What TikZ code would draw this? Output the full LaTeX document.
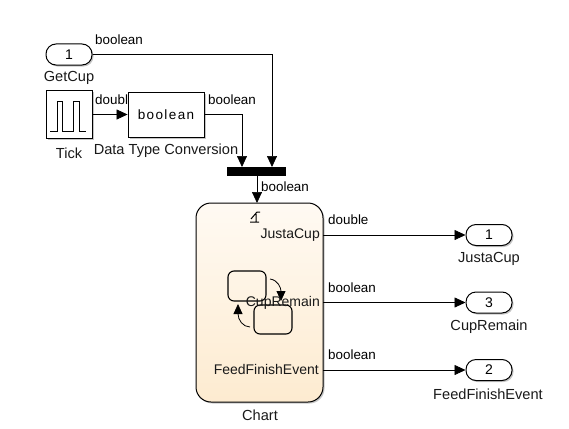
\documentclass[tikz,border=0pt]{standalone}
\usepackage{fontspec}
\setmainfont{Liberation Sans}
\usepackage{xcolor}
\usetikzlibrary{arrows.meta, shadows}
\definecolor{charttop}{HTML}{FFFAF3}
\definecolor{chartbottom}{HTML}{FDEBD0}
\tikzset{
    simlabel/.style={font=\fontsize{13.4}{15}\selectfont, inner sep=0pt, text=black},
    namelabel/.style={font=\fontsize{14.6}{16}\selectfont, inner sep=0pt, text=black!90},
    portlabel/.style={font=\fontsize{14}{16}\selectfont, inner sep=0pt, text=black!90, anchor=east},
    wire/.style={-{Triangle[length=11pt,width=10pt]}, line width=0.7pt},
    portblock/.style={draw, line width=1pt, fill=white, rounded corners=10pt, minimum width=46pt, minimum height=21pt, inner sep=0pt, font=\fontsize{14}{16}\selectfont, drop shadow={shadow xshift=1.5pt, shadow yshift=-1.5pt, fill=black!45}},
    simblock/.style={draw, line width=0.9pt, fill=white, inner sep=0pt, drop shadow={shadow xshift=1.5pt, shadow yshift=-1.5pt, fill=black!45}},
    statebox/.style={draw, line width=1.1pt, rounded corners=6pt}
}
\begin{document}
\begin{tikzpicture}[x=1pt, y=-1pt]
    \useasboundingbox (0,0) rectangle (569,428);

    % Wire labels under the blocks
    \node[simlabel, anchor=west] at (95,100) {double};

    % Source blocks
    \node[portblock] (getcup) at (69,54.5) {1};
    \node[simblock, minimum width=46pt, minimum height=48pt] (tick) at (69,114.5) {};
    \node[simblock, minimum width=76pt, minimum height=45pt, font=\fontsize{13.5}{15}\selectfont] (convert) at (166,114.5) {b\kern1.4pt o\kern1.4pt o\kern1.4pt l\kern1.4pt e\kern1.4pt a\kern1.4pt n};
    \node[draw, fill=black, inner sep=0pt, minimum width=58pt, minimum height=8pt, drop shadow={shadow xshift=1pt, shadow yshift=-1pt, fill=black!40}] (mux) at (256,171) {};

    % Pulse inside the clock
    \draw[line width=1pt] (50,131) -- (57,131) -- (57,101) -- (62.5,101) -- (62.5,131) -- (73,131) -- (73,101) -- (79,101) -- (79,131) -- (86,131);

    % Chart
    \node[draw, line width=1pt, rounded corners=15pt, top color=charttop, bottom color=chartbottom, minimum width=127pt, minimum height=199pt, inner sep=0pt, drop shadow={shadow xshift=1.5pt, shadow yshift=-1.5pt, fill=black!45}] (chart) at (259.5,302.5) {};

    % Little state icon
    \draw[statebox] (228,271) rectangle (266,301);
    \draw[statebox] (254,305) rectangle (292,334);
    \draw[-{Triangle[length=10pt,width=9pt]}, line width=0.8pt] (270,279) .. controls (278,280) and (281,288) .. (281,301);
    \draw[-{Triangle[length=10pt,width=9pt]}, line width=0.8pt] (250,327) .. controls (243,327) and (238,320) .. (238,304);

    % Edge trigger mark
    \draw[line width=1pt] (250,222) -- (259,222) (251,219) -- (257,212) -- (260,212) (256,214) -- (256,222);

    % Outports
    \node[portblock] (outjusta) at (489,235) {1};
    \node[portblock] (outremain) at (489,302.5) {3};
    \node[portblock] (outfeed) at (489,370) {2};

    % Port positions on the chart and the bar
    \coordinate (portjusta) at (323,235);
    \coordinate (portremain) at (323,302.5);
    \coordinate (portfeed) at (323,370);
    \coordinate (muxleft) at (242,167);
    \coordinate (muxright) at (272,167);
    \coordinate (chartin) at (257,203);
    \coordinate (muxout) at (257,175);

    % Wires
    \draw[wire] (getcup.east) -| (muxright);
    \draw[wire] (tick.east) -- (convert.west);
    \draw[wire] (convert.east) -| (muxleft);
    \draw[wire] (muxout) -- (chartin);
    \draw[wire] (portjusta) -- (outjusta.west);
    \draw[wire] (portremain) -- (outremain.west);
    \draw[wire] (portfeed) -- (outfeed.west);

    % Block names
    \node[namelabel] at (69,78) {GetCup};
    \node[namelabel] at (69,153) {Tick};
    \node[namelabel] at (166,151) {Data Type Conversion};
    \node[namelabel] at (260,415) {Chart};
    \node[namelabel] at (489,259) {JustaCup};
    \node[namelabel] at (489,327) {CupRemain};
    \node[namelabel] at (488,394) {FeedFinishEvent};

    % Wire labels
    \node[simlabel, anchor=west] at (95,40) {boolean};
    \node[simlabel, anchor=west] at (208,100) {boolean};
    \node[simlabel, anchor=west] at (261,187) {boolean};
    \node[simlabel, anchor=west] at (328,220) {double};
    \node[simlabel, anchor=west] at (328,288) {boolean};
    \node[simlabel, anchor=west] at (328,355) {boolean};

    % Port names inside the chart
    \node[portlabel] at (320,235) {JustaCup};
    \node[portlabel] at (320,303) {CupRemain};
    \node[portlabel] at (319,369) {FeedFinishEvent};
\end{tikzpicture}
\end{document}
